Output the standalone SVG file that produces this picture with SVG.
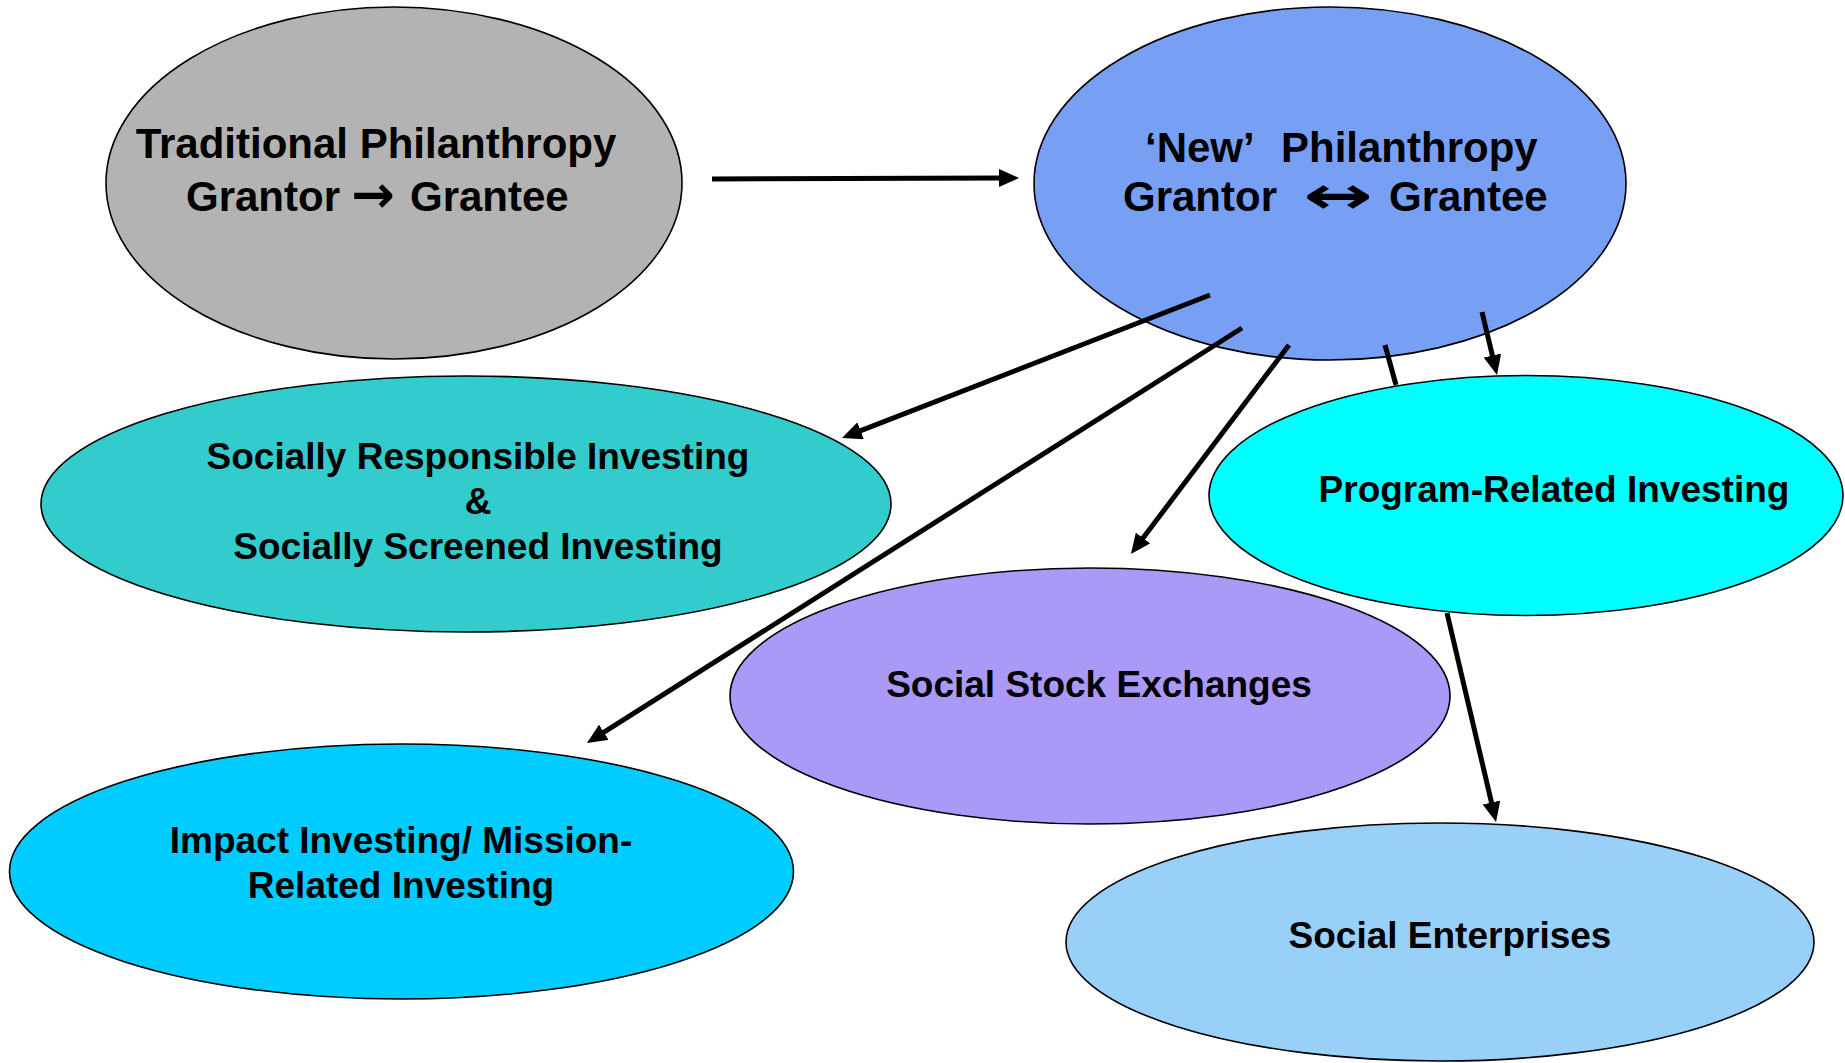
<svg xmlns="http://www.w3.org/2000/svg" width="1845" height="1063" viewBox="0 0 1845 1063">
<style>
.node{stroke:#000;stroke-width:1.6}
.t{font-family:"Liberation Sans",Arial,sans-serif;font-weight:bold;fill:#000}
.t42{font-size:42px}
.t37{font-size:37px;text-anchor:middle}
.arr{font-family:"DejaVu Sans",sans-serif;font-weight:bold;fill:#000;text-anchor:middle}
.c{stroke:#000;stroke-width:5;fill:none}
.ca{stroke:#000;stroke-width:5;fill:none;marker-end:url(#ah)}
</style>
<defs>
<marker id="ah" markerUnits="userSpaceOnUse" markerWidth="20" markerHeight="18" refX="4" refY="9" orient="auto">
<path d="M0,0 L20,9 L0,18 z" fill="#000"/>
</marker>
</defs>
<rect width="1845" height="1063" fill="#fff"/>
<g id="traditional">
<ellipse class="node" cx="394" cy="183" rx="288" ry="176" fill="#b3b3b3"/>
<text class="t t42" x="376" y="158" text-anchor="middle">Traditional Philanthropy</text>
<text class="t t42" x="186" y="211">Grantor</text>
<text class="arr" x="373" y="212" font-size="52">→</text>
<text class="t t42" x="410" y="211">Grantee</text>
</g>
<g id="new">
<ellipse class="node" cx="1330" cy="183.5" rx="296" ry="176.5" fill="#77a0f5"/>
<text class="t t42" x="1145" y="162">‘New’<tspan x="1281">Philanthropy</tspan></text>
<text class="t t42" x="1277" y="211" text-anchor="end">Grantor</text>
<text class="arr" x="1338" y="213" font-size="52" transform="translate(1338 0) scale(1.6 1) translate(-1338 0)">↔</text>
<text class="t t42" x="1389" y="211">Grantee</text>
</g>
<g id="sri">
<ellipse class="node" cx="466" cy="504" rx="425" ry="128" fill="#33cccc"/>
<text class="t t37" x="478" y="469">Socially Responsible Investing</text>
<text class="t t37" x="478" y="514">&amp;</text>
<text class="t t37" x="478" y="559">Socially Screened Investing</text>
</g>
<g id="pri">
<ellipse class="node" cx="1526" cy="495.5" rx="317" ry="120" fill="#00ffff"/>
<text class="t t37" x="1554" y="502">Program-Related Investing</text>
</g>
<g id="sse">
<ellipse class="node" cx="1090" cy="696" rx="360" ry="128" fill="#ab99f7"/>
<text class="t t37" x="1099" y="697">Social Stock Exchanges</text>
</g>
<g id="impact">
<ellipse class="node" cx="401.5" cy="871.5" rx="392" ry="127.5" fill="#00ccff"/>
<text class="t t37" x="401" y="853">Impact Investing/ Mission-</text>
<text class="t t37" x="401" y="898">Related Investing</text>
</g>
<g id="enterprises">
<ellipse class="node" cx="1440" cy="942" rx="374" ry="119" fill="#99d0f7"/>
<text class="t t37" x="1450" y="948">Social Enterprises</text>
</g>
<g id="connectors">
<path class="ca" d="M712,179 L1003,178"/>
<path class="ca" d="M1210,295 L856.9,432.2"/>
<path class="ca" d="M1242,328 L600.5,734.4"/>
<path class="ca" d="M1289,345 L1140.6,541.2"/>
<path class="c" d="M1385,345 L1396,385"/>
<path class="ca" d="M1482,312 L1493.3,359.4"/>
<path class="ca" d="M1447,613 L1492.4,806.4"/>
</g>
</svg>
